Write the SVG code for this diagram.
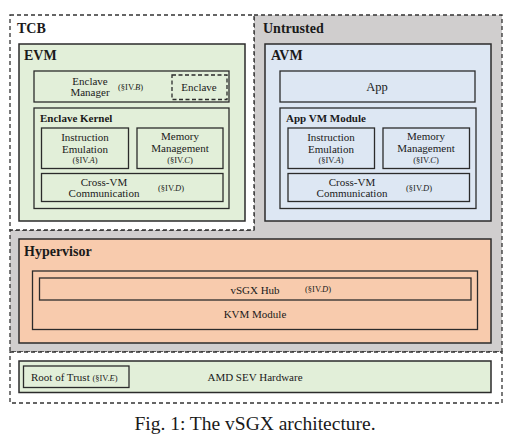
<svg xmlns="http://www.w3.org/2000/svg" width="518" height="439" viewBox="0 0 518 439">
<style>
text{font-family:"Liberation Serif","Times New Roman",serif;fill:#1a1a1a}
.zone{stroke:#333;stroke-width:1.3;stroke-dasharray:4,3}
.box{stroke:#2b2b2b;stroke-width:1.5}
.in{stroke:#2b2b2b;stroke-width:1.3}
.green{fill:#e2efd9}
.blue{fill:#dde7f3}
.peach{fill:#f8cbad}
.h1{font-size:14px;font-weight:bold}
.h2{font-size:11px;font-weight:bold}
.t{font-size:11px}
.s{font-size:8.5px}
.m{text-anchor:middle}
</style>
<rect width="518" height="439" fill="#ffffff"/>
<g id="untrusted">
<path d="M254,15 H502 V352 H10 V230 H254 Z" fill="#d0cece" class="zone"/>
<text class="h1" x="263" y="33">Untrusted</text>
</g>
<g id="tcb">
<rect x="10" y="15" width="244" height="215" fill="#ffffff" class="zone"/>
<text class="h1" x="17" y="33">TCB</text>
</g>
<g id="hw-zone">
<rect x="10" y="352" width="492" height="51" fill="#ffffff" class="zone"/>
</g>
<g id="evm">
<rect x="19" y="44" width="226" height="177" class="green box"/>
<text class="h1" x="24" y="60">EVM</text>
</g>
<g id="enclave-manager">
<rect x="34" y="71" width="195" height="31" class="green in"/>
<text class="t m" x="90" y="85">Enclave</text>
<text class="t m" x="90" y="96">Manager</text>
<text class="s" x="118" y="90">(§IV.<tspan font-style="italic">B</tspan>)</text>
</g>
<g id="enclave">
<rect x="172" y="75" width="55" height="24.5" fill="none" stroke="#2b2b2b" stroke-width="1.3" stroke-dasharray="4,2.5"/>
<text class="t m" x="199" y="90.5">Enclave</text>
</g>
<g id="enclave-kernel">
<rect x="34" y="108" width="195" height="100.5" class="green in"/>
<text class="h2" x="40" y="122">Enclave Kernel</text>
</g>
<g id="evm-instr">
<rect x="41.5" y="128" width="87" height="40.5" class="green in"/>
<text class="t m" x="85" y="141">Instruction</text>
<text class="t m" x="85" y="152.5">Emulation</text>
<text class="s m" x="85" y="163">(§IV.<tspan font-style="italic">A</tspan>)</text>
</g>
<g id="evm-mem">
<rect x="137" y="128" width="86" height="40.5" class="green in"/>
<text class="t m" x="180" y="140">Memory</text>
<text class="t m" x="180" y="151.5">Management</text>
<text class="s m" x="180" y="163">(§IV.<tspan font-style="italic">C</tspan>)</text>
</g>
<g id="evm-cross">
<rect x="41.5" y="173.5" width="181.5" height="28" class="green in"/>
<text class="t m" x="104" y="186">Cross-VM</text>
<text class="t m" x="104" y="197">Communication</text>
<text class="s" x="158" y="191">(§IV.<tspan font-style="italic">D</tspan>)</text>
</g>
<g id="avm">
<rect x="265" y="44" width="226" height="177" class="blue box"/>
<text class="h1" x="271" y="60">AVM</text>
</g>
<g id="app">
<rect x="280" y="71" width="195" height="31" class="blue in"/>
<text class="m" x="377" y="91" font-size="12.5">App</text>
</g>
<g id="app-vm-module">
<rect x="280" y="108" width="196" height="100.5" class="blue in"/>
<text class="h2" x="286" y="122">App VM Module</text>
</g>
<g id="avm-instr">
<rect x="288" y="128" width="86.5" height="40.5" class="blue in"/>
<text class="t m" x="331" y="141">Instruction</text>
<text class="t m" x="331" y="152.5">Emulation</text>
<text class="s m" x="331" y="163">(§IV.<tspan font-style="italic">A</tspan>)</text>
</g>
<g id="avm-mem">
<rect x="383" y="128" width="86.5" height="40.5" class="blue in"/>
<text class="t m" x="426" y="140">Memory</text>
<text class="t m" x="426" y="151.5">Management</text>
<text class="s m" x="426" y="163">(§IV.<tspan font-style="italic">C</tspan>)</text>
</g>
<g id="avm-cross">
<rect x="288" y="173.5" width="181.5" height="28" class="blue in"/>
<text class="t m" x="352" y="186">Cross-VM</text>
<text class="t m" x="352" y="197">Communication</text>
<text class="s" x="406" y="191">(§IV.<tspan font-style="italic">D</tspan>)</text>
</g>
<g id="hypervisor">
<rect x="19" y="239" width="472" height="104" class="peach box"/>
<text class="h1" x="24" y="256" font-size="14.5">Hypervisor</text>
</g>
<g id="kvm-module">
<rect x="32.5" y="271" width="445" height="58.5" class="peach in"/>
<text class="t m" x="255" y="317.5">KVM Module</text>
</g>
<g id="vsgx-hub">
<rect x="39.5" y="278" width="431.5" height="22" class="peach in"/>
<text class="t m" x="255" y="293.5">vSGX Hub</text>
<text class="s" x="305" y="292">(§IV.<tspan font-style="italic">D</tspan>)</text>
</g>
<g id="hardware">
<rect x="19" y="361" width="472" height="31.5" class="green box"/>
<text class="t m" x="255" y="381">AMD SEV Hardware</text>
</g>
<g id="root-of-trust">
<rect x="23.5" y="366" width="105.5" height="21.5" class="green in"/>
<text class="t" x="31" y="381">Root of Trust <tspan class="s">(§IV.<tspan font-style="italic">E</tspan>)</tspan></text>
</g>
<g id="connectors"></g>
<text x="255" y="430" font-size="19.5" text-anchor="middle">Fig. 1: The vSGX architecture.</text>
</svg>
